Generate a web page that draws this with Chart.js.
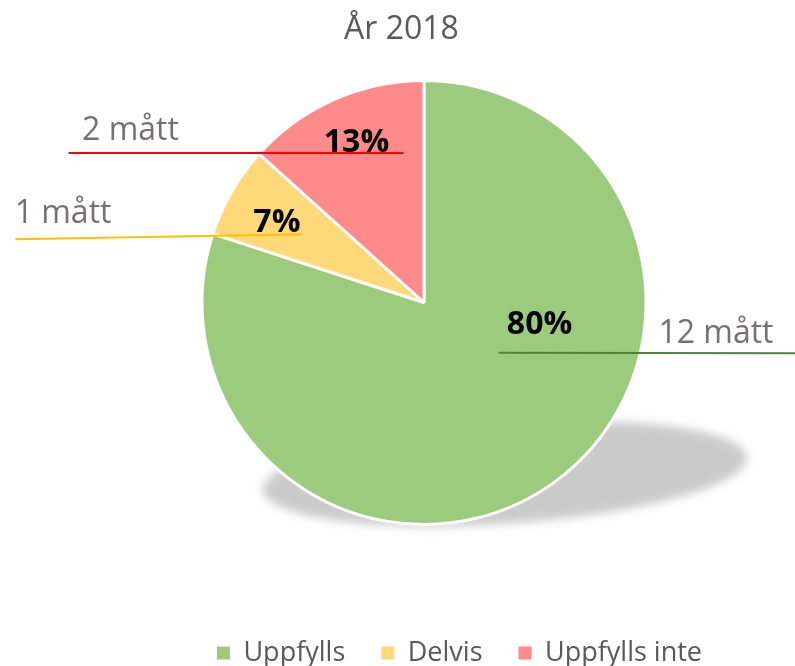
<!DOCTYPE html>
<html>
<head>
<meta charset="utf-8">
<script src="https://cdn.jsdelivr.net/npm/chart.js@4.4.1/dist/chart.umd.min.js"></script>
<style>
  html, body { margin: 0; padding: 0; background: #ffffff; }
  #wrap { width: 795px; height: 666px; }
</style>
</head>
<body>
<div id="wrap"><canvas id="c" width="795" height="666"></canvas></div>
<script>
// ---- data ----
const chartTitle = 'År 2018';
const categories = ['Uppfylls', 'Delvis', 'Uppfylls inte'];
const measureCounts = [12, 1, 2];
const countUnit = 'mått';

// ---- styles ----
const sliceColors = ['#9DCB7E', '#FFD979', '#FF8A8A'];
const leaderColors = ['#538135', '#FFC000', '#FF0000'];

// label placement relative to the pie centre, in units of the radius
const labelLayout = [
  { pct: [0.524, 0.143],  cnt: [1.324, 0.184],   line: [0.338, 0.228, 1.685, 0.230] },
  { pct: [-0.667, -0.320], cnt: [-1.637, -0.361], line: [-1.853, -0.287, -0.551, -0.309] },
  { pct: [-0.306, -0.683], cnt: [-1.331, -0.737], line: [-1.612, -0.678, -0.093, -0.678] }
];

const BORDER = 3;

const shadowPlugin = {
  id: 'pieShadow',
  beforeDatasetsDraw(chart) {
    const arc = chart.getDatasetMeta(0).data[0];
    if (!arc) return;
    const R = arc.outerRadius - BORDER / 2;
    const ctx = chart.ctx;
    ctx.save();
    ctx.filter = 'blur(5px)';
    ctx.fillStyle = '#cbcbcb';
    ctx.beginPath();
    ctx.ellipse(arc.x + 0.367 * R, arc.y + 0.776 * R, 1.10 * R, 0.227 * R, -3.9 * Math.PI / 180, 0, Math.PI * 2);
    ctx.fill();
    ctx.restore();
  }
};

const labelPlugin = {
  id: 'sliceLabels',
  afterDatasetsDraw(chart) {
    const meta = chart.getDatasetMeta(0);
    const ctx = chart.ctx;
    const values = chart.data.datasets[0].data;
    const total = values.reduce((a, b) => a + b, 0);
    meta.data.forEach((arc, i) => {
      const L = labelLayout[i];
      const R = arc.outerRadius - BORDER / 2;
      const cx = arc.x, cy = arc.y;
      // leader line
      ctx.save();
      ctx.strokeStyle = leaderColors[i];
      ctx.lineWidth = 2;
      ctx.beginPath();
      ctx.moveTo(cx + L.line[0] * R, cy + L.line[1] * R);
      ctx.lineTo(cx + L.line[2] * R, cy + L.line[3] * R);
      ctx.stroke();
      ctx.restore();
    });
    meta.data.forEach((arc, i) => {
      const L = labelLayout[i];
      const R = arc.outerRadius - BORDER / 2;
      const cx = arc.x, cy = arc.y;
      ctx.save();
      ctx.textAlign = 'center';
      ctx.textBaseline = 'alphabetic';
      // percentage
      ctx.fillStyle = '#000000';
      ctx.font = 'bold 32px "Open Sans"';
      ctx.fillText(Math.round(values[i] / total * 100) + '%', cx + L.pct[0] * R, cy + L.pct[1] * R);
      // count
      ctx.fillStyle = '#767171';
      ctx.font = '32px "Open Sans"';
      ctx.fillText(values[i] + ' ' + countUnit, cx + L.cnt[0] * R, cy + L.cnt[1] * R);
      ctx.restore();
    });
  }
};

const titlePlugin = {
  id: 'topTitle',
  afterDraw(chart) {
    const ctx = chart.ctx;
    ctx.save();
    ctx.fillStyle = '#595959';
    ctx.font = '32px "Open Sans"';
    ctx.textAlign = 'center';
    ctx.textBaseline = 'alphabetic';
    ctx.fillText(chartTitle, chart.width / 2 + 4, 38.5);
    ctx.restore();
  }
};

new Chart(document.getElementById('c'), {
  type: 'pie',
  data: {
    labels: categories,
    datasets: [{
      data: measureCounts,
      backgroundColor: sliceColors,
      borderColor: '#ffffff',
      borderWidth: BORDER,
      radius: 222
    }]
  },
  options: {
    responsive: false,
    animation: false,
    layout: { padding: { left: 110, right: 57, top: 1.5, bottom: 0 } },
    plugins: {
      title: { display: false },
      tooltip: { enabled: false },
      legend: {
        position: 'bottom',
        align: 'end',
        maxHeight: 62.5,
        labels: {
          boxWidth: 13,
          boxHeight: 13,
          padding: 36,
          color: '#595959',
          font: { family: 'Open Sans', size: 27 },
          generateLabels(chart) {
            return Chart.overrides.pie.plugins.legend.labels.generateLabels(chart)
              .map(l => Object.assign({}, l, { lineWidth: 0 }));
          }
        }
      }
    }
  },
  plugins: [shadowPlugin, labelPlugin, titlePlugin]
});
</script>
</body>
</html>
